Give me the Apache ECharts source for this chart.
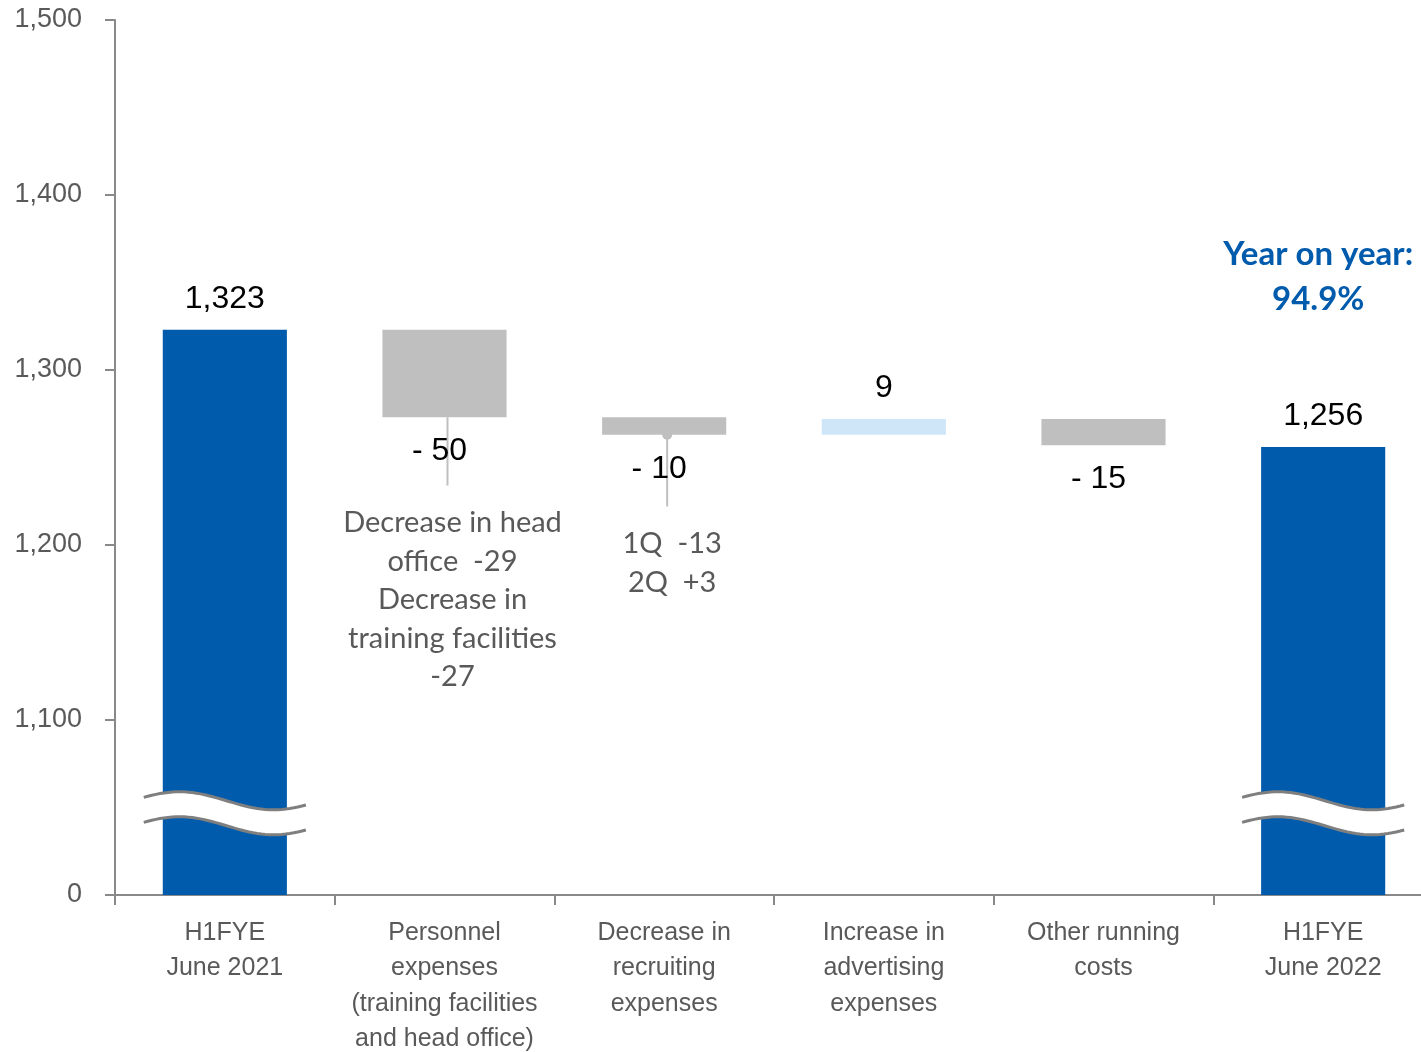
<!DOCTYPE html>
<html>
<head>
<meta charset="utf-8">
<script src="https://cdn.jsdelivr.net/npm/echarts@6/dist/echarts.min.js"></script>
<style>
  html, body { margin: 0; padding: 0; background: #ffffff; }
  #chart { width: 1421px; height: 1052px; }
</style>
</head>
<body>
<div id="chart"></div>
<script>
// Cost bridge: H1 FYE June 2021 -> H1 FYE June 2022
const categories = [
  'H1FYE\nJune 2021',
  'Personnel\nexpenses\n(training facilities\nand head office)',
  'Decrease in\nrecruiting\nexpenses',
  'Increase in\nadvertising\nexpenses',
  'Other running\ncosts',
  'H1FYE\nJune 2022'
];
const changes = [1323, -50, -10, 9, -15, 1256];
const isTotal = [true, false, false, false, false, true];
const yTickValues = [1100, 1200, 1300, 1400, 1500];
const breakdownNotes = [
  '',
  'Decrease in head\noffice  -29\nDecrease in\ntraining facilities\n-27',
  '1Q  -13\n2Q  +3',
  '', '', ''
];
const leaderEnds = [null, 1234, 1222, null, null, null];
const yoyText = 'Year on year:\n94.9%';

// The value axis is broken: everything between 0 and this level is cut out
const axisFloor = 1000;
const breakLevel = 1045;

const BLUE = '#005BAC';
const GREY = '#BFBFBF';
const LIGHT = '#CFE5F8';
const AXIS = '#898989';
const TEXT = '#595959';

// Running totals -> [index, low, high, change]
const bars = [];
let running = 0;
changes.forEach((c, i) => {
  if (isTotal[i]) {
    bars.push([i, axisFloor, c, c]);
    running = c;
  } else {
    const next = running + c;
    bars.push([i, Math.min(running, next), Math.max(running, next), c]);
    running = next;
  }
});

function fmt(v) {
  const s = Math.abs(v).toLocaleString('en-US');
  return v < 0 ? '- ' + s : s;
}

const cappedLeaders = new Set([2]);

function renderItem(params, api) {
  const idx = params.dataIndex;
  const i = api.value(0), low = api.value(1), high = api.value(2), change = api.value(3);
  const pTop = api.coord([i, high]);
  const pBot = api.coord([i, low]);
  const bw = api.size([1, 0])[0] * 0.565;
  const cx = pTop[0];
  const total = isTotal[idx];
  const fill = total ? BLUE : (change < 0 ? GREY : LIGHT);
  const children = [];

  // leader line to the breakdown note
  if (leaderEnds[idx] != null) {
    const pEnd = api.coord([i, leaderEnds[idx]]);
    children.push({
      type: 'line', z2: 1,
      shape: { x1: cx + 3, y1: pBot[1], x2: cx + 3, y2: pEnd[1] },
      style: { stroke: GREY, lineWidth: 2 }
    });
    if (cappedLeaders.has(idx)) {
      children.push({
        type: 'circle', z2: 1,
        shape: { cx: cx + 3, cy: pBot[1], r: 5 },
        style: { fill: GREY }
      });
    }
    children.push({
      type: 'text', z2: 5,
      style: {
        x: cx + 8, y: pEnd[1] + 18,
        text: breakdownNotes[idx],
        fill: TEXT, fontSize: 29, fontFamily: 'Lato',
        lineHeight: 38.5, align: 'center', verticalAlign: 'top'
      }
    });
  }

  children.push({
    type: 'rect', z2: 2,
    shape: { x: cx - bw / 2, y: pTop[1], width: bw, height: pBot[1] - pTop[1] },
    style: { fill: fill }
  });

  // value label
  const below = !total && change < 0;
  children.push({
    type: 'text', z2: 6,
    style: {
      x: below ? cx - 5 : cx,
      y: below ? pBot[1] + 18 : pTop[1] - 15,
      text: fmt(change),
      fill: '#000000', fontSize: 32, fontFamily: 'Liberation Sans',
      align: 'center', verticalAlign: below ? 'top' : 'bottom'
    }
  });

  // break symbol across the cut bars
  if (total) {
    const yc = api.coord([i, breakLevel])[1];
    const w = bw + 38;
    const x0 = cx - w / 2;
    const gap = 25;
    const upper = [], lower = [];
    const n = 40;
    for (let k = 0; k <= n; k++) {
      const t = k / n;
      const dy = -9 * Math.cos(2 * Math.PI * (t - 0.22) / 1.16);
      upper.push([x0 + t * w, yc - gap / 2 + dy - 3]);
      lower.push([x0 + t * w, yc + gap / 2 + dy - 3]);
    }
    children.push({
      type: 'polygon', z2: 3,
      shape: { points: upper.concat(lower.slice().reverse()) },
      style: { fill: '#ffffff' }
    });
    children.push({ type: 'polyline', z2: 4, shape: { points: upper }, style: { stroke: '#7f7f7f', lineWidth: 3, fill: null } });
    children.push({ type: 'polyline', z2: 4, shape: { points: lower }, style: { stroke: '#7f7f7f', lineWidth: 3, fill: null } });
  }

  return { type: 'group', children: children };
}

const chart = echarts.init(document.getElementById('chart'));
chart.setOption({
  animation: false,
  backgroundColor: '#ffffff',
  grid: { left: 115, width: 1318, top: 20, bottom: 157, containLabel: false, outerBoundsMode: 'none' },
  xAxis: {
    type: 'category',
    data: categories,
    boundaryGap: true,
    axisLine: { lineStyle: { color: AXIS, width: 2 } },
    axisTick: { show: true, length: 10, lineStyle: { color: AXIS, width: 2 } },
    axisLabel: {
      interval: 0, margin: 20, color: TEXT, fontSize: 25,
      fontFamily: 'Liberation Sans', lineHeight: 35.5, align: 'center'
    },
    splitLine: { show: false }
  },
  yAxis: {
    type: 'value',
    min: axisFloor, max: 1500, interval: 100,
    axisLine: { show: true, lineStyle: { color: AXIS, width: 2 } },
    axisTick: { show: true, length: 10, lineStyle: { color: AXIS, width: 2 } },
    axisLabel: {
      margin: 33, color: TEXT, fontSize: 27, fontFamily: 'Liberation Sans',
      formatter: v => (v === axisFloor ? '0' : (yTickValues.indexOf(v) >= 0 ? v.toLocaleString('en-US') : ''))
    },
    splitLine: { show: false }
  },
  series: [{
    type: 'custom',
    renderItem: renderItem,
    clip: false,
    encode: { x: 0, y: [1, 2] },
    data: bars
  }]
});

// Year-on-year callout, centred over the final bar
const lastX = chart.convertToPixel({ xAxisIndex: 0 }, categories.length - 1);
chart.setOption({
  graphic: [{
    type: 'text',
    x: lastX - 5, y: 232,
    style: {
      text: yoyText, fill: BLUE, fontSize: 33, fontWeight: 'bold',
      fontFamily: 'Lato', lineHeight: 45, align: 'center', verticalAlign: 'top'
    }
  }]
});
</script>
</body>
</html>
